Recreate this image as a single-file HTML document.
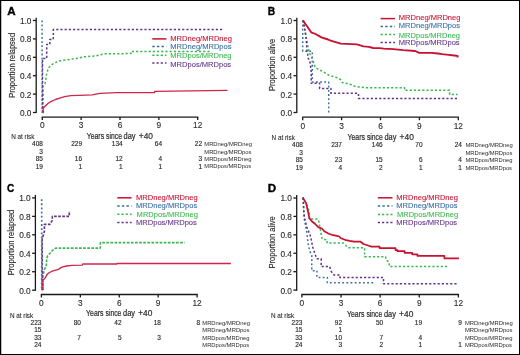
<!DOCTYPE html>
<html><head><meta charset="utf-8"><style>
html,body{margin:0;padding:0;background:#fff;}
.wrap{position:relative;width:520px;height:355px;overflow:hidden;background:#fff;}
svg{position:absolute;left:0;top:0;font-family:"Liberation Sans", sans-serif;will-change:transform;}
.frame{position:absolute;left:0;top:0;width:518px;height:353px;border:1px solid #000;}
</style></head><body><div class="wrap">
<svg width="520" height="355" viewBox="0 0 520 355">
<text x="7.2" y="15.0" font-size="10.8" text-anchor="start" fill="#000" stroke="#000" stroke-width="0.35" font-weight="bold" textLength="8.4" lengthAdjust="spacingAndGlyphs">A</text>
<line x1="36.2" y1="17.7" x2="36.2" y2="113.1" stroke="#1a1a1a" stroke-width="1.3" />
<line x1="32.900000000000006" y1="112.5" x2="36.2" y2="112.5" stroke="#1a1a1a" stroke-width="1.3" />
<text x="31.500000000000004" y="115.9" font-size="8.3" text-anchor="end" fill="#2a2a2a" stroke="#2a2a2a" stroke-width="0.12">0.0</text>
<line x1="32.900000000000006" y1="94.1" x2="36.2" y2="94.1" stroke="#1a1a1a" stroke-width="1.3" />
<text x="31.500000000000004" y="97.5" font-size="8.3" text-anchor="end" fill="#2a2a2a" stroke="#2a2a2a" stroke-width="0.12">0.2</text>
<line x1="32.900000000000006" y1="75.69999999999999" x2="36.2" y2="75.69999999999999" stroke="#1a1a1a" stroke-width="1.3" />
<text x="31.500000000000004" y="79.1" font-size="8.3" text-anchor="end" fill="#2a2a2a" stroke="#2a2a2a" stroke-width="0.12">0.4</text>
<line x1="32.900000000000006" y1="57.29999999999999" x2="36.2" y2="57.29999999999999" stroke="#1a1a1a" stroke-width="1.3" />
<text x="31.500000000000004" y="60.69999999999999" font-size="8.3" text-anchor="end" fill="#2a2a2a" stroke="#2a2a2a" stroke-width="0.12">0.6</text>
<line x1="32.900000000000006" y1="38.89999999999999" x2="36.2" y2="38.89999999999999" stroke="#1a1a1a" stroke-width="1.3" />
<text x="31.500000000000004" y="42.29999999999999" font-size="8.3" text-anchor="end" fill="#2a2a2a" stroke="#2a2a2a" stroke-width="0.12">0.8</text>
<line x1="32.900000000000006" y1="20.5" x2="36.2" y2="20.5" stroke="#1a1a1a" stroke-width="1.3" />
<text x="31.500000000000004" y="23.9" font-size="8.3" text-anchor="end" fill="#2a2a2a" stroke="#2a2a2a" stroke-width="0.12">1.0</text>
<line x1="41.699999999999996" y1="117.1" x2="198.29999999999998" y2="117.1" stroke="#1a1a1a" stroke-width="1.3" />
<line x1="42.3" y1="117.1" x2="42.3" y2="120.1" stroke="#1a1a1a" stroke-width="1.3" />
<text x="42.3" y="128.2" font-size="8.3" text-anchor="middle" fill="#2a2a2a" stroke="#2a2a2a" stroke-width="0.12">0</text>
<line x1="81.14999999999999" y1="117.1" x2="81.14999999999999" y2="120.1" stroke="#1a1a1a" stroke-width="1.3" />
<text x="81.14999999999999" y="128.2" font-size="8.3" text-anchor="middle" fill="#2a2a2a" stroke="#2a2a2a" stroke-width="0.12">3</text>
<line x1="119.99999999999999" y1="117.1" x2="119.99999999999999" y2="120.1" stroke="#1a1a1a" stroke-width="1.3" />
<text x="119.99999999999999" y="128.2" font-size="8.3" text-anchor="middle" fill="#2a2a2a" stroke="#2a2a2a" stroke-width="0.12">6</text>
<line x1="158.84999999999997" y1="117.1" x2="158.84999999999997" y2="120.1" stroke="#1a1a1a" stroke-width="1.3" />
<text x="158.84999999999997" y="128.2" font-size="8.3" text-anchor="middle" fill="#2a2a2a" stroke="#2a2a2a" stroke-width="0.12">9</text>
<line x1="197.7" y1="117.1" x2="197.7" y2="120.1" stroke="#1a1a1a" stroke-width="1.3" />
<text x="197.7" y="128.2" font-size="8.3" text-anchor="middle" fill="#2a2a2a" stroke="#2a2a2a" stroke-width="0.12">12</text>
<text x="86.7" y="138.8" font-size="9.2" text-anchor="start" fill="#2a2a2a" stroke="#2a2a2a" stroke-width="0.22" textLength="17.4" lengthAdjust="spacingAndGlyphs">Years</text>
<text x="106.1" y="138.8" font-size="9.2" text-anchor="start" fill="#2a2a2a" stroke="#2a2a2a" stroke-width="0.22" textLength="15.8" lengthAdjust="spacingAndGlyphs">since</text>
<text x="123.6" y="138.8" font-size="9.2" text-anchor="start" fill="#2a2a2a" stroke="#2a2a2a" stroke-width="0.22" textLength="12.0" lengthAdjust="spacingAndGlyphs">day</text>
<text x="138.8" y="138.8" font-size="9.2" text-anchor="start" fill="#2a2a2a" stroke="#2a2a2a" stroke-width="0.22" textLength="14.2" lengthAdjust="spacingAndGlyphs">+40</text>
<text x="0" y="0" font-size="9.0" text-anchor="start" fill="#2a2a2a" stroke="#2a2a2a" stroke-width="0.15" textLength="64.8" lengthAdjust="spacingAndGlyphs" transform="translate(14.7,97.7) rotate(-90)">Proportion relapsed</text>
<line x1="152.3" y1="38.9" x2="166.4" y2="38.9" stroke="#c8102f" stroke-width="1.5" />
<line x1="152.3" y1="46.6" x2="166.4" y2="46.6" stroke="#386ca4" stroke-width="1.5" stroke-dasharray="2.4 2.2"/>
<line x1="152.3" y1="55.3" x2="166.4" y2="55.3" stroke="#3bb84e" stroke-width="1.5" stroke-dasharray="2.2 2.0"/>
<line x1="152.3" y1="63.1" x2="166.4" y2="63.1" stroke="#63358a" stroke-width="1.5" stroke-dasharray="2.2 2.0"/>
<text x="170.3" y="41.3" font-size="7.75" text-anchor="start" fill="#c8102f" stroke="#c8102f" stroke-width="0.1" textLength="61.67" lengthAdjust="spacingAndGlyphs">MRDneg/MRDneg</text>
<text x="170.3" y="49.2" font-size="7.75" text-anchor="start" fill="#386ca4" stroke="#386ca4" stroke-width="0.1" textLength="61.25" lengthAdjust="spacingAndGlyphs">MRDneg/MRDpos</text>
<text x="170.3" y="57.9" font-size="7.75" text-anchor="start" fill="#3bb84e" stroke="#3bb84e" stroke-width="0.1" textLength="61.25" lengthAdjust="spacingAndGlyphs">MRDpos/MRDneg</text>
<text x="170.3" y="66.5" font-size="7.75" text-anchor="start" fill="#63358a" stroke="#63358a" stroke-width="0.1" textLength="60.82" lengthAdjust="spacingAndGlyphs">MRDpos/MRDpos</text>
<path d="M42.1,20.4 V112.5" fill="none" stroke="#386ca4" stroke-width="1.5" stroke-dasharray="1.8 2.35" stroke-linejoin="round"/>
<path d="M43,112.8 V86.5 L44.9,83.8 L45.7,79.8 L46.4,74.9 L47.4,71.4 L48.3,68 L51.8,64.6 L55.7,62.4 L59.5,60.9 L63.6,60.2 L76.2,58.5 L84.2,56.8 L96.3,55.8 L101.7,54.4 L104.4,53.7 L131,53.6 V51.4 L210.8,51.4" fill="none" stroke="#3bb84e" stroke-width="1.5" stroke-dasharray="2.2 2.0" stroke-linejoin="round"/>
<path d="M42.5,112.5 V58.6 H46.7 V44.5 H49.8 V39.5 H53.3 V29.6 H222.9" fill="none" stroke="#63358a" stroke-width="1.5" stroke-dasharray="2.2 2.0" stroke-linejoin="round"/>
<path d="M43.2,113.2 V108.3 L45.6,105.8 L48.5,103 L51.3,101.3 L55.5,99.5 L59.7,98.1 L64.6,96.7 L67.7,96.1 L70.8,95.7 L79.2,95.3 L92.3,94.9 L94.6,94.3 L100,93.4 L116.5,92.6 L130,92.6 L154.6,92.6 V91.3 L227.5,90.4" fill="none" stroke="#cf2548" stroke-width="1.35" stroke-linejoin="round"/>
<text x="11.2" y="139.1" font-size="6.35" text-anchor="start" fill="#2a2a2a" stroke="#2a2a2a" stroke-width="0.1">N at risk</text>
<text x="42.9" y="146.3" font-size="6.5" text-anchor="end" fill="#2a2a2a" stroke="#2a2a2a" stroke-width="0.15">408</text>
<text x="82.1" y="146.3" font-size="6.5" text-anchor="end" fill="#2a2a2a" stroke="#2a2a2a" stroke-width="0.15">229</text>
<text x="122.7" y="146.3" font-size="6.5" text-anchor="end" fill="#2a2a2a" stroke="#2a2a2a" stroke-width="0.15">134</text>
<text x="162.1" y="146.3" font-size="6.5" text-anchor="end" fill="#2a2a2a" stroke="#2a2a2a" stroke-width="0.15">64</text>
<text x="202.1" y="146.3" font-size="6.5" text-anchor="end" fill="#2a2a2a" stroke="#2a2a2a" stroke-width="0.15">22</text>
<text x="204.3" y="146.10000000000002" font-size="6.2" text-anchor="start" fill="#2a2a2a" textLength="47.6" lengthAdjust="spacingAndGlyphs">MRDneg/MRDneg</text>
<text x="42.9" y="153.7" font-size="6.5" text-anchor="end" fill="#2a2a2a" stroke="#2a2a2a" stroke-width="0.15">3</text>
<text x="204.3" y="153.5" font-size="6.2" text-anchor="start" fill="#2a2a2a" textLength="47.2" lengthAdjust="spacingAndGlyphs">MRDneg/MRDpos</text>
<text x="42.9" y="161.1" font-size="6.5" text-anchor="end" fill="#2a2a2a" stroke="#2a2a2a" stroke-width="0.15">85</text>
<text x="82.1" y="161.1" font-size="6.5" text-anchor="end" fill="#2a2a2a" stroke="#2a2a2a" stroke-width="0.15">16</text>
<text x="122.7" y="161.1" font-size="6.5" text-anchor="end" fill="#2a2a2a" stroke="#2a2a2a" stroke-width="0.15">12</text>
<text x="162.1" y="161.1" font-size="6.5" text-anchor="end" fill="#2a2a2a" stroke="#2a2a2a" stroke-width="0.15">4</text>
<text x="202.1" y="161.1" font-size="6.5" text-anchor="end" fill="#2a2a2a" stroke="#2a2a2a" stroke-width="0.15">3</text>
<text x="204.3" y="160.9" font-size="6.2" text-anchor="start" fill="#2a2a2a" textLength="47.2" lengthAdjust="spacingAndGlyphs">MRDpos/MRDneg</text>
<text x="42.9" y="168.5" font-size="6.5" text-anchor="end" fill="#2a2a2a" stroke="#2a2a2a" stroke-width="0.15">19</text>
<text x="82.1" y="168.5" font-size="6.5" text-anchor="end" fill="#2a2a2a" stroke="#2a2a2a" stroke-width="0.15">1</text>
<text x="122.7" y="168.5" font-size="6.5" text-anchor="end" fill="#2a2a2a" stroke="#2a2a2a" stroke-width="0.15">1</text>
<text x="162.1" y="168.5" font-size="6.5" text-anchor="end" fill="#2a2a2a" stroke="#2a2a2a" stroke-width="0.15">1</text>
<text x="202.1" y="168.5" font-size="6.5" text-anchor="end" fill="#2a2a2a" stroke="#2a2a2a" stroke-width="0.15">1</text>
<text x="204.3" y="168.3" font-size="6.2" text-anchor="start" fill="#2a2a2a" textLength="46.8" lengthAdjust="spacingAndGlyphs">MRDpos/MRDpos</text>
<text x="267.8" y="15.0" font-size="10.8" text-anchor="start" fill="#000" stroke="#000" stroke-width="0.35" font-weight="bold" textLength="7.4" lengthAdjust="spacingAndGlyphs">B</text>
<line x1="296.8" y1="17.7" x2="296.8" y2="113.1" stroke="#1a1a1a" stroke-width="1.3" />
<line x1="293.5" y1="112.5" x2="296.8" y2="112.5" stroke="#1a1a1a" stroke-width="1.3" />
<text x="292.1" y="115.9" font-size="8.3" text-anchor="end" fill="#2a2a2a" stroke="#2a2a2a" stroke-width="0.12">0.0</text>
<line x1="293.5" y1="94.1" x2="296.8" y2="94.1" stroke="#1a1a1a" stroke-width="1.3" />
<text x="292.1" y="97.5" font-size="8.3" text-anchor="end" fill="#2a2a2a" stroke="#2a2a2a" stroke-width="0.12">0.2</text>
<line x1="293.5" y1="75.69999999999999" x2="296.8" y2="75.69999999999999" stroke="#1a1a1a" stroke-width="1.3" />
<text x="292.1" y="79.1" font-size="8.3" text-anchor="end" fill="#2a2a2a" stroke="#2a2a2a" stroke-width="0.12">0.4</text>
<line x1="293.5" y1="57.29999999999999" x2="296.8" y2="57.29999999999999" stroke="#1a1a1a" stroke-width="1.3" />
<text x="292.1" y="60.69999999999999" font-size="8.3" text-anchor="end" fill="#2a2a2a" stroke="#2a2a2a" stroke-width="0.12">0.6</text>
<line x1="293.5" y1="38.89999999999999" x2="296.8" y2="38.89999999999999" stroke="#1a1a1a" stroke-width="1.3" />
<text x="292.1" y="42.29999999999999" font-size="8.3" text-anchor="end" fill="#2a2a2a" stroke="#2a2a2a" stroke-width="0.12">0.8</text>
<line x1="293.5" y1="20.5" x2="296.8" y2="20.5" stroke="#1a1a1a" stroke-width="1.3" />
<text x="292.1" y="23.9" font-size="8.3" text-anchor="end" fill="#2a2a2a" stroke="#2a2a2a" stroke-width="0.12">1.0</text>
<line x1="302.09999999999997" y1="117.2" x2="458.90000000000003" y2="117.2" stroke="#1a1a1a" stroke-width="1.3" />
<line x1="302.7" y1="117.2" x2="302.7" y2="120.2" stroke="#1a1a1a" stroke-width="1.3" />
<text x="302.7" y="128.5" font-size="8.3" text-anchor="middle" fill="#2a2a2a" stroke="#2a2a2a" stroke-width="0.12">0</text>
<line x1="341.6" y1="117.2" x2="341.6" y2="120.2" stroke="#1a1a1a" stroke-width="1.3" />
<text x="341.6" y="128.5" font-size="8.3" text-anchor="middle" fill="#2a2a2a" stroke="#2a2a2a" stroke-width="0.12">3</text>
<line x1="380.5" y1="117.2" x2="380.5" y2="120.2" stroke="#1a1a1a" stroke-width="1.3" />
<text x="380.5" y="128.5" font-size="8.3" text-anchor="middle" fill="#2a2a2a" stroke="#2a2a2a" stroke-width="0.12">6</text>
<line x1="419.4" y1="117.2" x2="419.4" y2="120.2" stroke="#1a1a1a" stroke-width="1.3" />
<text x="419.4" y="128.5" font-size="8.3" text-anchor="middle" fill="#2a2a2a" stroke="#2a2a2a" stroke-width="0.12">9</text>
<line x1="458.3" y1="117.2" x2="458.3" y2="120.2" stroke="#1a1a1a" stroke-width="1.3" />
<text x="458.3" y="128.5" font-size="8.3" text-anchor="middle" fill="#2a2a2a" stroke="#2a2a2a" stroke-width="0.12">12</text>
<text x="347.5" y="139.5" font-size="9.2" text-anchor="start" fill="#2a2a2a" stroke="#2a2a2a" stroke-width="0.22" textLength="17.4" lengthAdjust="spacingAndGlyphs">Years</text>
<text x="366.9" y="139.5" font-size="9.2" text-anchor="start" fill="#2a2a2a" stroke="#2a2a2a" stroke-width="0.22" textLength="15.8" lengthAdjust="spacingAndGlyphs">since</text>
<text x="384.4" y="139.5" font-size="9.2" text-anchor="start" fill="#2a2a2a" stroke="#2a2a2a" stroke-width="0.22" textLength="12.0" lengthAdjust="spacingAndGlyphs">day</text>
<text x="399.6" y="139.5" font-size="9.2" text-anchor="start" fill="#2a2a2a" stroke="#2a2a2a" stroke-width="0.22" textLength="14.2" lengthAdjust="spacingAndGlyphs">+40</text>
<text x="0" y="0" font-size="9.0" text-anchor="start" fill="#2a2a2a" stroke="#2a2a2a" stroke-width="0.15" textLength="52.3" lengthAdjust="spacingAndGlyphs" transform="translate(275.0,91.0) rotate(-90)">Proportion alive</text>
<line x1="380.6" y1="18.6" x2="395.0" y2="18.6" stroke="#c8102f" stroke-width="1.5" />
<line x1="380.6" y1="26.4" x2="395.0" y2="26.4" stroke="#386ca4" stroke-width="1.5" stroke-dasharray="2.4 2.2"/>
<line x1="380.6" y1="34.6" x2="395.0" y2="34.6" stroke="#3bb84e" stroke-width="1.5" stroke-dasharray="2.2 2.0"/>
<line x1="380.6" y1="42.6" x2="395.0" y2="42.6" stroke="#63358a" stroke-width="1.5" stroke-dasharray="2.2 2.0"/>
<text x="398.8" y="20.3" font-size="7.75" text-anchor="start" fill="#c8102f" stroke="#c8102f" stroke-width="0.1" textLength="61.67" lengthAdjust="spacingAndGlyphs">MRDneg/MRDneg</text>
<text x="398.8" y="28.1" font-size="7.75" text-anchor="start" fill="#386ca4" stroke="#386ca4" stroke-width="0.1" textLength="61.25" lengthAdjust="spacingAndGlyphs">MRDneg/MRDpos</text>
<text x="398.8" y="37.8" font-size="7.75" text-anchor="start" fill="#3bb84e" stroke="#3bb84e" stroke-width="0.1" textLength="61.25" lengthAdjust="spacingAndGlyphs">MRDpos/MRDneg</text>
<text x="398.8" y="45.3" font-size="7.75" text-anchor="start" fill="#63358a" stroke="#63358a" stroke-width="0.1" textLength="60.82" lengthAdjust="spacingAndGlyphs">MRDpos/MRDpos</text>
<path d="M302.7,20.5 V51.2 H312.3 V81.9 H328.7 V112.5" fill="none" stroke="#386ca4" stroke-width="1.5" stroke-dasharray="1.8 2.35" stroke-linejoin="round"/>
<path d="M303,20.3 L304.5,26.8 L307.4,43.8 L309.3,52.8 L310.8,55.8 L313.2,61.2 L315.2,67.5 L319.2,69.8 L322.7,71.5 L327.3,74.4 L333.1,76.5 L337.7,77.9 L340.6,79.6 L342.3,82.5 L346.9,83.6 L351.5,84.8 L356.1,86.8 L360.7,87.1 L366.5,87.7 L404.6,87.8 V90.3 H449.6 V94.4 H457.7" fill="none" stroke="#3bb84e" stroke-width="1.5" stroke-dasharray="2.2 2.0" stroke-linejoin="round"/>
<path d="M303,20.3 L304.5,27.7 L306.2,39 L306.6,45.4 L307,49.9 L307.6,53.8 L308,57.7 L309.8,61.2 L310.3,64.1 L310.8,68 L311.2,71.5 V83.3 H319.6 V88.4 H330.9 V93.3 H358.5 V98.4 H457.6" fill="none" stroke="#63358a" stroke-width="1.5" stroke-dasharray="2.2 2.0" stroke-linejoin="round"/>
<path d="M303.2,20.3 L303.4,20.9 L311.2,32.3 L315.5,34 L321.4,37.4 L328.1,39.5 L330,40.4 L334,41.7 L340.8,43.7 L356.9,44.4 L363.6,46.4 L369,46.8 L373.1,48 L379.8,48.2 L383.8,48.7 L393.3,49.1 L403.1,50.1 L415.2,51 L419.2,52.8 L431.3,52.8 L438.1,53.5 L442.1,54.1 L448.8,54.8 L454.2,55.5 L457.6,55.9 V57.5" fill="none" stroke="#c8102f" stroke-width="1.85" stroke-linejoin="round"/>
<text x="271.6" y="140.0" font-size="6.35" text-anchor="start" fill="#2a2a2a" stroke="#2a2a2a" stroke-width="0.1">N at risk</text>
<text x="302.9" y="147.4" font-size="6.5" text-anchor="end" fill="#2a2a2a" stroke="#2a2a2a" stroke-width="0.15">408</text>
<text x="342.0" y="147.4" font-size="6.5" text-anchor="end" fill="#2a2a2a" stroke="#2a2a2a" stroke-width="0.15">237</text>
<text x="382.7" y="147.4" font-size="6.5" text-anchor="end" fill="#2a2a2a" stroke="#2a2a2a" stroke-width="0.15">146</text>
<text x="422.5" y="147.4" font-size="6.5" text-anchor="end" fill="#2a2a2a" stroke="#2a2a2a" stroke-width="0.15">70</text>
<text x="461.9" y="147.4" font-size="6.5" text-anchor="end" fill="#2a2a2a" stroke="#2a2a2a" stroke-width="0.15">24</text>
<text x="465.4" y="147.20000000000002" font-size="6.2" text-anchor="start" fill="#2a2a2a" textLength="47.4" lengthAdjust="spacingAndGlyphs">MRDneg/MRDneg</text>
<text x="302.9" y="154.9" font-size="6.5" text-anchor="end" fill="#2a2a2a" stroke="#2a2a2a" stroke-width="0.15">3</text>
<text x="465.4" y="154.70000000000002" font-size="6.2" text-anchor="start" fill="#2a2a2a" textLength="47.0" lengthAdjust="spacingAndGlyphs">MRDneg/MRDpos</text>
<text x="302.9" y="162.3" font-size="6.5" text-anchor="end" fill="#2a2a2a" stroke="#2a2a2a" stroke-width="0.15">85</text>
<text x="342.0" y="162.3" font-size="6.5" text-anchor="end" fill="#2a2a2a" stroke="#2a2a2a" stroke-width="0.15">23</text>
<text x="382.7" y="162.3" font-size="6.5" text-anchor="end" fill="#2a2a2a" stroke="#2a2a2a" stroke-width="0.15">15</text>
<text x="422.5" y="162.3" font-size="6.5" text-anchor="end" fill="#2a2a2a" stroke="#2a2a2a" stroke-width="0.15">6</text>
<text x="461.9" y="162.3" font-size="6.5" text-anchor="end" fill="#2a2a2a" stroke="#2a2a2a" stroke-width="0.15">4</text>
<text x="465.4" y="162.10000000000002" font-size="6.2" text-anchor="start" fill="#2a2a2a" textLength="47.0" lengthAdjust="spacingAndGlyphs">MRDpos/MRDneg</text>
<text x="302.9" y="169.7" font-size="6.5" text-anchor="end" fill="#2a2a2a" stroke="#2a2a2a" stroke-width="0.15">19</text>
<text x="342.0" y="169.7" font-size="6.5" text-anchor="end" fill="#2a2a2a" stroke="#2a2a2a" stroke-width="0.15">4</text>
<text x="382.7" y="169.7" font-size="6.5" text-anchor="end" fill="#2a2a2a" stroke="#2a2a2a" stroke-width="0.15">2</text>
<text x="422.5" y="169.7" font-size="6.5" text-anchor="end" fill="#2a2a2a" stroke="#2a2a2a" stroke-width="0.15">1</text>
<text x="461.9" y="169.7" font-size="6.5" text-anchor="end" fill="#2a2a2a" stroke="#2a2a2a" stroke-width="0.15">1</text>
<text x="465.4" y="169.5" font-size="6.2" text-anchor="start" fill="#2a2a2a" textLength="46.6" lengthAdjust="spacingAndGlyphs">MRDpos/MRDpos</text>
<text x="6.9" y="191.7" font-size="10.8" text-anchor="start" fill="#000" stroke="#000" stroke-width="0.35" font-weight="bold" textLength="7.3" lengthAdjust="spacingAndGlyphs">C</text>
<line x1="35.4" y1="195.0" x2="35.4" y2="290.8" stroke="#1a1a1a" stroke-width="1.3" />
<line x1="32.1" y1="290.2" x2="35.4" y2="290.2" stroke="#1a1a1a" stroke-width="1.3" />
<text x="30.7" y="293.59999999999997" font-size="8.3" text-anchor="end" fill="#2a2a2a" stroke="#2a2a2a" stroke-width="0.12">0.0</text>
<line x1="32.1" y1="271.74" x2="35.4" y2="271.74" stroke="#1a1a1a" stroke-width="1.3" />
<text x="30.7" y="275.14" font-size="8.3" text-anchor="end" fill="#2a2a2a" stroke="#2a2a2a" stroke-width="0.12">0.2</text>
<line x1="32.1" y1="253.28" x2="35.4" y2="253.28" stroke="#1a1a1a" stroke-width="1.3" />
<text x="30.7" y="256.68" font-size="8.3" text-anchor="end" fill="#2a2a2a" stroke="#2a2a2a" stroke-width="0.12">0.4</text>
<line x1="32.1" y1="234.82" x2="35.4" y2="234.82" stroke="#1a1a1a" stroke-width="1.3" />
<text x="30.7" y="238.22" font-size="8.3" text-anchor="end" fill="#2a2a2a" stroke="#2a2a2a" stroke-width="0.12">0.6</text>
<line x1="32.1" y1="216.36" x2="35.4" y2="216.36" stroke="#1a1a1a" stroke-width="1.3" />
<text x="30.7" y="219.76000000000002" font-size="8.3" text-anchor="end" fill="#2a2a2a" stroke="#2a2a2a" stroke-width="0.12">0.8</text>
<line x1="32.1" y1="197.9" x2="35.4" y2="197.9" stroke="#1a1a1a" stroke-width="1.3" />
<text x="30.7" y="201.3" font-size="8.3" text-anchor="end" fill="#2a2a2a" stroke="#2a2a2a" stroke-width="0.12">1.0</text>
<line x1="40.8" y1="294.5" x2="197.7" y2="294.5" stroke="#1a1a1a" stroke-width="1.3" />
<line x1="41.4" y1="294.5" x2="41.4" y2="297.5" stroke="#1a1a1a" stroke-width="1.3" />
<text x="41.4" y="306.2" font-size="8.3" text-anchor="middle" fill="#2a2a2a" stroke="#2a2a2a" stroke-width="0.12">0</text>
<line x1="80.32499999999999" y1="294.5" x2="80.32499999999999" y2="297.5" stroke="#1a1a1a" stroke-width="1.3" />
<text x="80.32499999999999" y="306.2" font-size="8.3" text-anchor="middle" fill="#2a2a2a" stroke="#2a2a2a" stroke-width="0.12">3</text>
<line x1="119.25" y1="294.5" x2="119.25" y2="297.5" stroke="#1a1a1a" stroke-width="1.3" />
<text x="119.25" y="306.2" font-size="8.3" text-anchor="middle" fill="#2a2a2a" stroke="#2a2a2a" stroke-width="0.12">6</text>
<line x1="158.17499999999998" y1="294.5" x2="158.17499999999998" y2="297.5" stroke="#1a1a1a" stroke-width="1.3" />
<text x="158.17499999999998" y="306.2" font-size="8.3" text-anchor="middle" fill="#2a2a2a" stroke="#2a2a2a" stroke-width="0.12">9</text>
<line x1="197.1" y1="294.5" x2="197.1" y2="297.5" stroke="#1a1a1a" stroke-width="1.3" />
<text x="197.1" y="306.2" font-size="8.3" text-anchor="middle" fill="#2a2a2a" stroke="#2a2a2a" stroke-width="0.12">12</text>
<text x="86.1" y="316.3" font-size="9.2" text-anchor="start" fill="#2a2a2a" stroke="#2a2a2a" stroke-width="0.22" textLength="17.4" lengthAdjust="spacingAndGlyphs">Years</text>
<text x="105.5" y="316.3" font-size="9.2" text-anchor="start" fill="#2a2a2a" stroke="#2a2a2a" stroke-width="0.22" textLength="15.8" lengthAdjust="spacingAndGlyphs">since</text>
<text x="123.0" y="316.3" font-size="9.2" text-anchor="start" fill="#2a2a2a" stroke="#2a2a2a" stroke-width="0.22" textLength="12.0" lengthAdjust="spacingAndGlyphs">day</text>
<text x="138.2" y="316.3" font-size="9.2" text-anchor="start" fill="#2a2a2a" stroke="#2a2a2a" stroke-width="0.22" textLength="14.2" lengthAdjust="spacingAndGlyphs">+40</text>
<text x="0" y="0" font-size="9.0" text-anchor="start" fill="#2a2a2a" stroke="#2a2a2a" stroke-width="0.15" textLength="65.6" lengthAdjust="spacingAndGlyphs" transform="translate(14.4,275.3) rotate(-90)">Proportion relapsed</text>
<line x1="117.3" y1="197.8" x2="131.6" y2="197.8" stroke="#c8102f" stroke-width="1.5" />
<line x1="117.3" y1="206.1" x2="131.6" y2="206.1" stroke="#386ca4" stroke-width="1.5" stroke-dasharray="2.4 2.2"/>
<line x1="117.3" y1="214.2" x2="131.6" y2="214.2" stroke="#3bb84e" stroke-width="1.5" stroke-dasharray="2.2 2.0"/>
<line x1="117.3" y1="222.4" x2="131.6" y2="222.4" stroke="#63358a" stroke-width="1.5" stroke-dasharray="2.2 2.0"/>
<text x="136.0" y="200.1" font-size="7.75" text-anchor="start" fill="#c8102f" stroke="#c8102f" stroke-width="0.1" textLength="61.67" lengthAdjust="spacingAndGlyphs">MRDneg/MRDneg</text>
<text x="136.0" y="208.2" font-size="7.75" text-anchor="start" fill="#386ca4" stroke="#386ca4" stroke-width="0.1" textLength="61.25" lengthAdjust="spacingAndGlyphs">MRDneg/MRDpos</text>
<text x="136.6" y="216.9" font-size="7.75" text-anchor="start" fill="#3bb84e" stroke="#3bb84e" stroke-width="0.1" textLength="61.25" lengthAdjust="spacingAndGlyphs">MRDpos/MRDneg</text>
<text x="136.0" y="225.0" font-size="7.75" text-anchor="start" fill="#63358a" stroke="#63358a" stroke-width="0.1" textLength="60.82" lengthAdjust="spacingAndGlyphs">MRDpos/MRDpos</text>
<path d="M41.7,199.2 V290.2" fill="none" stroke="#386ca4" stroke-width="1.65" stroke-dasharray="1.8 2.35" stroke-linejoin="round"/>
<path d="M42.5,290.2 V280.3 L43.3,274.1 L44.4,269.6 L46.2,266.3 L46.7,259.5 L47.5,256.1 L52.5,250.4 L55.7,248.1 H100.3 V242.6 H184.7" fill="none" stroke="#3bb84e" stroke-width="1.65" stroke-dasharray="2.7 1.4" stroke-linejoin="round"/>
<path d="M42.2,290.2 V239 L44.4,231.2 V224.3 H49.8 L52.3,220.4 V216.4 H69.3 V211" fill="none" stroke="#63358a" stroke-width="1.65" stroke-dasharray="2.7 1.4" stroke-linejoin="round"/>
<path d="M43,290.2 V280.3 L45,278.1 L47.3,274.1 L49.5,272.5 L52.9,270.8 L58.5,269.4 L61.3,267.4 L66.4,266 L72,265.4 L82.2,265.1 L82.7,264 L116.9,264 V263.5 L230.9,263.5" fill="none" stroke="#cf2548" stroke-width="1.35" stroke-linejoin="round"/>
<text x="9.9" y="317.7" font-size="6.35" text-anchor="start" fill="#2a2a2a" stroke="#2a2a2a" stroke-width="0.1">N at risk</text>
<text x="41.4" y="324.8" font-size="6.5" text-anchor="end" fill="#2a2a2a" stroke="#2a2a2a" stroke-width="0.15">223</text>
<text x="80.9" y="324.8" font-size="6.5" text-anchor="end" fill="#2a2a2a" stroke="#2a2a2a" stroke-width="0.15">80</text>
<text x="121.5" y="324.8" font-size="6.5" text-anchor="end" fill="#2a2a2a" stroke="#2a2a2a" stroke-width="0.15">42</text>
<text x="160.9" y="324.8" font-size="6.5" text-anchor="end" fill="#2a2a2a" stroke="#2a2a2a" stroke-width="0.15">18</text>
<text x="200.2" y="324.8" font-size="6.5" text-anchor="end" fill="#2a2a2a" stroke="#2a2a2a" stroke-width="0.15">8</text>
<text x="202.3" y="324.6" font-size="6.2" text-anchor="start" fill="#2a2a2a" textLength="47.6" lengthAdjust="spacingAndGlyphs">MRDneg/MRDneg</text>
<text x="41.4" y="332.3" font-size="6.5" text-anchor="end" fill="#2a2a2a" stroke="#2a2a2a" stroke-width="0.15">15</text>
<text x="202.3" y="332.1" font-size="6.2" text-anchor="start" fill="#2a2a2a" textLength="47.2" lengthAdjust="spacingAndGlyphs">MRDneg/MRDpos</text>
<text x="41.4" y="339.7" font-size="6.5" text-anchor="end" fill="#2a2a2a" stroke="#2a2a2a" stroke-width="0.15">33</text>
<text x="80.9" y="339.7" font-size="6.5" text-anchor="end" fill="#2a2a2a" stroke="#2a2a2a" stroke-width="0.15">7</text>
<text x="121.5" y="339.7" font-size="6.5" text-anchor="end" fill="#2a2a2a" stroke="#2a2a2a" stroke-width="0.15">5</text>
<text x="160.9" y="339.7" font-size="6.5" text-anchor="end" fill="#2a2a2a" stroke="#2a2a2a" stroke-width="0.15">3</text>
<text x="202.3" y="339.5" font-size="6.2" text-anchor="start" fill="#2a2a2a" textLength="47.2" lengthAdjust="spacingAndGlyphs">MRDpos/MRDneg</text>
<text x="41.4" y="347.2" font-size="6.5" text-anchor="end" fill="#2a2a2a" stroke="#2a2a2a" stroke-width="0.15">24</text>
<text x="202.3" y="347.0" font-size="6.2" text-anchor="start" fill="#2a2a2a" textLength="46.8" lengthAdjust="spacingAndGlyphs">MRDpos/MRDpos</text>
<text x="267.8" y="191.7" font-size="10.8" text-anchor="start" fill="#000" stroke="#000" stroke-width="0.35" font-weight="bold" textLength="8.4" lengthAdjust="spacingAndGlyphs">D</text>
<line x1="296.7" y1="195.0" x2="296.7" y2="290.70000000000005" stroke="#1a1a1a" stroke-width="1.3" />
<line x1="293.4" y1="290.1" x2="296.7" y2="290.1" stroke="#1a1a1a" stroke-width="1.3" />
<text x="292.0" y="293.5" font-size="8.3" text-anchor="end" fill="#2a2a2a" stroke="#2a2a2a" stroke-width="0.12">0.0</text>
<line x1="293.4" y1="271.68" x2="296.7" y2="271.68" stroke="#1a1a1a" stroke-width="1.3" />
<text x="292.0" y="275.08" font-size="8.3" text-anchor="end" fill="#2a2a2a" stroke="#2a2a2a" stroke-width="0.12">0.2</text>
<line x1="293.4" y1="253.26000000000002" x2="296.7" y2="253.26000000000002" stroke="#1a1a1a" stroke-width="1.3" />
<text x="292.0" y="256.66" font-size="8.3" text-anchor="end" fill="#2a2a2a" stroke="#2a2a2a" stroke-width="0.12">0.4</text>
<line x1="293.4" y1="234.84" x2="296.7" y2="234.84" stroke="#1a1a1a" stroke-width="1.3" />
<text x="292.0" y="238.24" font-size="8.3" text-anchor="end" fill="#2a2a2a" stroke="#2a2a2a" stroke-width="0.12">0.6</text>
<line x1="293.4" y1="216.42000000000002" x2="296.7" y2="216.42000000000002" stroke="#1a1a1a" stroke-width="1.3" />
<text x="292.0" y="219.82000000000002" font-size="8.3" text-anchor="end" fill="#2a2a2a" stroke="#2a2a2a" stroke-width="0.12">0.8</text>
<line x1="293.4" y1="198.0" x2="296.7" y2="198.0" stroke="#1a1a1a" stroke-width="1.3" />
<text x="292.0" y="201.4" font-size="8.3" text-anchor="end" fill="#2a2a2a" stroke="#2a2a2a" stroke-width="0.12">1.0</text>
<line x1="301.29999999999995" y1="294.5" x2="459.0" y2="294.5" stroke="#1a1a1a" stroke-width="1.3" />
<line x1="301.9" y1="294.5" x2="301.9" y2="297.5" stroke="#1a1a1a" stroke-width="1.3" />
<text x="301.9" y="306.4" font-size="8.3" text-anchor="middle" fill="#2a2a2a" stroke="#2a2a2a" stroke-width="0.12">0</text>
<line x1="341.025" y1="294.5" x2="341.025" y2="297.5" stroke="#1a1a1a" stroke-width="1.3" />
<text x="341.025" y="306.4" font-size="8.3" text-anchor="middle" fill="#2a2a2a" stroke="#2a2a2a" stroke-width="0.12">3</text>
<line x1="380.15" y1="294.5" x2="380.15" y2="297.5" stroke="#1a1a1a" stroke-width="1.3" />
<text x="380.15" y="306.4" font-size="8.3" text-anchor="middle" fill="#2a2a2a" stroke="#2a2a2a" stroke-width="0.12">6</text>
<line x1="419.275" y1="294.5" x2="419.275" y2="297.5" stroke="#1a1a1a" stroke-width="1.3" />
<text x="419.275" y="306.4" font-size="8.3" text-anchor="middle" fill="#2a2a2a" stroke="#2a2a2a" stroke-width="0.12">9</text>
<line x1="458.4" y1="294.5" x2="458.4" y2="297.5" stroke="#1a1a1a" stroke-width="1.3" />
<text x="458.4" y="306.4" font-size="8.3" text-anchor="middle" fill="#2a2a2a" stroke="#2a2a2a" stroke-width="0.12">12</text>
<text x="347.0" y="316.8" font-size="9.2" text-anchor="start" fill="#2a2a2a" stroke="#2a2a2a" stroke-width="0.22" textLength="17.4" lengthAdjust="spacingAndGlyphs">Years</text>
<text x="366.4" y="316.8" font-size="9.2" text-anchor="start" fill="#2a2a2a" stroke="#2a2a2a" stroke-width="0.22" textLength="15.8" lengthAdjust="spacingAndGlyphs">since</text>
<text x="383.9" y="316.8" font-size="9.2" text-anchor="start" fill="#2a2a2a" stroke="#2a2a2a" stroke-width="0.22" textLength="12.0" lengthAdjust="spacingAndGlyphs">day</text>
<text x="399.1" y="316.8" font-size="9.2" text-anchor="start" fill="#2a2a2a" stroke="#2a2a2a" stroke-width="0.22" textLength="14.2" lengthAdjust="spacingAndGlyphs">+40</text>
<text x="0" y="0" font-size="9.0" text-anchor="start" fill="#2a2a2a" stroke="#2a2a2a" stroke-width="0.15" textLength="52.3" lengthAdjust="spacingAndGlyphs" transform="translate(275.0,268.5) rotate(-90)">Proportion alive</text>
<line x1="377.8" y1="197.8" x2="392.5" y2="197.8" stroke="#c8102f" stroke-width="1.5" />
<line x1="377.8" y1="206.1" x2="392.5" y2="206.1" stroke="#386ca4" stroke-width="1.5" stroke-dasharray="2.4 2.2"/>
<line x1="377.8" y1="214.4" x2="392.5" y2="214.4" stroke="#3bb84e" stroke-width="1.5" stroke-dasharray="2.2 2.0"/>
<line x1="377.8" y1="222.4" x2="392.5" y2="222.4" stroke="#63358a" stroke-width="1.5" stroke-dasharray="2.2 2.0"/>
<text x="396.3" y="200.1" font-size="7.75" text-anchor="start" fill="#c8102f" stroke="#c8102f" stroke-width="0.1" textLength="61.67" lengthAdjust="spacingAndGlyphs">MRDneg/MRDneg</text>
<text x="396.3" y="208.2" font-size="7.75" text-anchor="start" fill="#386ca4" stroke="#386ca4" stroke-width="0.1" textLength="61.25" lengthAdjust="spacingAndGlyphs">MRDneg/MRDpos</text>
<text x="396.90000000000003" y="216.9" font-size="7.75" text-anchor="start" fill="#3bb84e" stroke="#3bb84e" stroke-width="0.1" textLength="61.25" lengthAdjust="spacingAndGlyphs">MRDpos/MRDneg</text>
<text x="396.3" y="225.0" font-size="7.75" text-anchor="start" fill="#63358a" stroke="#63358a" stroke-width="0.1" textLength="60.82" lengthAdjust="spacingAndGlyphs">MRDpos/MRDpos</text>
<path d="M302.8,198.1 L303.3,199.8 L304.1,217.8 L305.6,225.7 L306.8,232.6 L307.6,239.4 L308.5,246.2 L310.2,252.1 L311.8,255.5 V270.8 H316.9 V277.4 H327.3 V282.8 H375.5" fill="none" stroke="#386ca4" stroke-width="1.5" stroke-dasharray="1.8 2.35" stroke-linejoin="round"/>
<path d="M302.8,197 L306.7,204.8 L309,211 L309.3,219.1 H318 L319.1,222.3 L319.7,226.2 L320.8,231.9 L321.3,236.5 L322.5,239.4 L327.1,239.8 V242.9 H343.3 L346.1,245.8 L347.9,247.7 H364.6 V256.7 H385.6 L386.3,260.2 L389.2,262.1 V266.4 H448.8" fill="none" stroke="#3bb84e" stroke-width="1.5" stroke-dasharray="2.2 2.0" stroke-linejoin="round"/>
<path d="M303,197.6 L303.9,213.3 L305,220 L306.7,226.8 L307.8,229.6 L310.2,235.2 L311,238.5 L312.7,247 L315.2,254.6 L316.9,258.8 H321.2 V266.5 H329.6 L331.3,271.5 L333.8,274.9 H339.8 V277.5 H383.5 V283.8 H457.5" fill="none" stroke="#63358a" stroke-width="1.5" stroke-dasharray="2.2 2.0" stroke-linejoin="round"/>
<path d="M302.8,197.6 L306.1,203.1 L309.5,218.4 L311.8,221.2 L315.2,224 L318.5,227.4 L321.9,228.5 L324.2,231.3 L328.8,233.7 L331.7,234.8 L335.8,235.6 L339.2,236.5 L341,238.3 L345,239.8 L349.6,240.9 L354.2,241.7 L360.6,241.7 L363.4,244 L368.1,245.5 L371.5,246.7 L379.6,246.7 V248.1 H395.5 V250 H397.5 V251.2 H404.6 V252.9 H412.2 V254.3 H417.4 V255.8 H444.4 V258.4 H458.9" fill="none" stroke="#c8102f" stroke-width="1.75" stroke-linejoin="round"/>
<text x="270.9" y="317.7" font-size="6.35" text-anchor="start" fill="#2a2a2a" stroke="#2a2a2a" stroke-width="0.1">N at risk</text>
<text x="302.4" y="325.0" font-size="6.5" text-anchor="end" fill="#2a2a2a" stroke="#2a2a2a" stroke-width="0.15">223</text>
<text x="342.1" y="325.0" font-size="6.5" text-anchor="end" fill="#2a2a2a" stroke="#2a2a2a" stroke-width="0.15">92</text>
<text x="383.2" y="325.0" font-size="6.5" text-anchor="end" fill="#2a2a2a" stroke="#2a2a2a" stroke-width="0.15">50</text>
<text x="422.1" y="325.0" font-size="6.5" text-anchor="end" fill="#2a2a2a" stroke="#2a2a2a" stroke-width="0.15">19</text>
<text x="461.9" y="325.0" font-size="6.5" text-anchor="end" fill="#2a2a2a" stroke="#2a2a2a" stroke-width="0.15">9</text>
<text x="465.0" y="324.8" font-size="6.2" text-anchor="start" fill="#2a2a2a" textLength="47.8" lengthAdjust="spacingAndGlyphs">MRDneg/MRDneg</text>
<text x="302.4" y="332.4" font-size="6.5" text-anchor="end" fill="#2a2a2a" stroke="#2a2a2a" stroke-width="0.15">15</text>
<text x="342.1" y="332.4" font-size="6.5" text-anchor="end" fill="#2a2a2a" stroke="#2a2a2a" stroke-width="0.15">1</text>
<text x="465.0" y="332.2" font-size="6.2" text-anchor="start" fill="#2a2a2a" textLength="47.4" lengthAdjust="spacingAndGlyphs">MRDneg/MRDpos</text>
<text x="302.4" y="339.8" font-size="6.5" text-anchor="end" fill="#2a2a2a" stroke="#2a2a2a" stroke-width="0.15">33</text>
<text x="342.1" y="339.8" font-size="6.5" text-anchor="end" fill="#2a2a2a" stroke="#2a2a2a" stroke-width="0.15">10</text>
<text x="383.2" y="339.8" font-size="6.5" text-anchor="end" fill="#2a2a2a" stroke="#2a2a2a" stroke-width="0.15">7</text>
<text x="422.1" y="339.8" font-size="6.5" text-anchor="end" fill="#2a2a2a" stroke="#2a2a2a" stroke-width="0.15">4</text>
<text x="465.0" y="339.6" font-size="6.2" text-anchor="start" fill="#2a2a2a" textLength="47.4" lengthAdjust="spacingAndGlyphs">MRDpos/MRDneg</text>
<text x="302.4" y="347.2" font-size="6.5" text-anchor="end" fill="#2a2a2a" stroke="#2a2a2a" stroke-width="0.15">24</text>
<text x="342.1" y="347.2" font-size="6.5" text-anchor="end" fill="#2a2a2a" stroke="#2a2a2a" stroke-width="0.15">3</text>
<text x="383.2" y="347.2" font-size="6.5" text-anchor="end" fill="#2a2a2a" stroke="#2a2a2a" stroke-width="0.15">2</text>
<text x="422.1" y="347.2" font-size="6.5" text-anchor="end" fill="#2a2a2a" stroke="#2a2a2a" stroke-width="0.15">1</text>
<text x="461.9" y="347.2" font-size="6.5" text-anchor="end" fill="#2a2a2a" stroke="#2a2a2a" stroke-width="0.15">1</text>
<text x="465.0" y="347.0" font-size="6.2" text-anchor="start" fill="#2a2a2a" textLength="47.0" lengthAdjust="spacingAndGlyphs">MRDpos/MRDpos</text>
<rect x="1" y="1" width="1" height="353" fill="#000" opacity="0.25"/>
</svg><div class="frame"></div></div></body></html>
